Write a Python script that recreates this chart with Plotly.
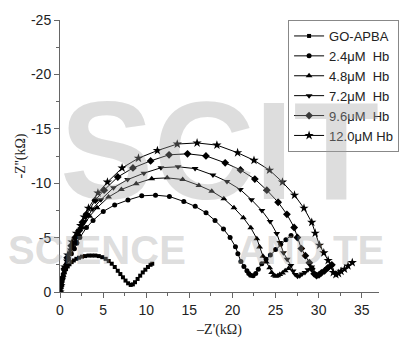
import plotly.graph_objects as go

# ---- data (kΩ) ----
names = ["GO-APBA", "2.4\u03bcM  Hb", "4.8\u03bcM  Hb", "7.2\u03bcM  Hb", "9.6\u03bcM  Hb", "12.0\u03bcM Hb"]
symbols = ["square", "circle", "triangle-up", "triangle-down", "diamond", "star"]
msizes = [4, 5, 6, 6, 6, 7]

x_go = [0, 0.05, 0.1, 0.15, 0.2, 0.3, 0.4, 0.55, 0.7, 0.9, 1.1, 1.35, 1.6, 1.9, 2.2, 2.55, 2.9, 3.3, 3.7, 4.1,
        4.5, 4.9, 5.3, 5.65, 6.0, 6.35, 6.7, 7.0, 7.3, 7.6, 7.9, 8.2, 8.45, 8.7, 9.0, 9.3, 9.6, 9.9, 10.2, 10.5, 10.7]
y_go = [0, -0.2, -0.5, -0.8, -1.0, -1.3, -1.6, -1.85, -2.1, -2.35, -2.55, -2.75, -2.9, -3.05, -3.15, -3.25, -3.3, -3.35, -3.35, -3.35,
        -3.3, -3.2, -3.05, -2.85, -2.6, -2.3, -1.95, -1.65, -1.35, -1.05, -0.8, -0.65, -0.7, -0.9, -1.2, -1.5, -1.8, -2.05, -2.3, -2.5, -2.6]

x_24 = [0, 0.07, 0.17, 0.38, 0.63, 0.98, 1.32, 1.67, 1.95, 2.3, 3.07, 3.83, 5.02, 6.34, 7.88, 9.48, 11.08, 12.69, 14.36, 15.68,
        16.94, 17.98, 18.96, 19.73, 20.35, 20.63, 20.98, 21.33, 21.68, 21.89, 22.1, 22.4, 22.7, 23.0, 23.4, 23.9, 24.4, 25.0, 25.6, 26.2, 26.8]
y_24 = [0, -0.39, -0.85, -1.5, -2.21, -2.99, -3.51, -3.97, -4.49, -5.0, -5.92, -6.57, -7.41, -8.0, -8.45, -8.84, -8.9, -8.78, -8.32, -7.87,
        -7.28, -6.57, -5.79, -5.0, -4.16, -3.51, -2.8, -2.34, -1.95, -1.7, -1.55, -1.5, -1.7, -2.1, -2.6, -3.0, -3.4, -3.9, -4.4, -4.8, -5.2]

x_48 = [0, 0.08, 0.2, 0.43, 0.7, 1.09, 1.49, 1.88, 2.19, 2.58, 3.44, 4.3, 5.63, 7.12, 8.84, 10.64, 12.43, 14.23, 16.11, 17.6,
        19.0, 20.18, 21.27, 22.13, 22.83, 23.15, 23.54, 23.93, 24.32, 24.55, 24.79, 25.02, 25.26, 25.49, 25.81, 26.12, 26.51]
y_48 = [0, -0.46, -1.0, -1.76, -2.6, -3.52, -4.14, -4.67, -5.29, -5.9, -6.97, -7.74, -8.73, -9.42, -9.96, -10.42, -10.49, -10.34, -9.8, -9.27,
        -8.58, -7.74, -6.82, -5.9, -4.9, -4.14, -3.29, -2.76, -2.22, -1.8, -1.55, -1.45, -1.5, -1.6, -1.75, -1.95, -2.15]

x_72 = [0, 0.09, 0.22, 0.47, 0.77, 1.21, 1.64, 2.07, 2.41, 2.84, 3.79, 4.74, 6.2, 7.84, 9.73, 11.71, 13.69, 15.67, 17.74, 19.37,
        20.92, 22.21, 23.42, 24.37, 25.14, 25.49, 25.92, 26.35, 26.78, 27.04, 27.29, 27.55, 27.81, 28.07, 28.41, 28.76, 29.19]
y_72 = [0, -0.5, -1.09, -1.93, -2.86, -3.86, -4.54, -5.12, -5.8, -6.47, -7.64, -8.48, -9.58, -10.33, -10.92, -11.42, -11.51, -11.34, -10.75, -10.16,
        -9.41, -8.48, -7.48, -6.47, -5.38, -4.54, -3.61, -3.02, -2.44, -1.93, -1.6, -1.45, -1.5, -1.65, -1.8, -2.05, -2.3]

x_96 = [0, 0.09, 0.23, 0.51, 0.84, 1.3, 1.77, 2.23, 2.6, 3.07, 4.09, 5.12, 6.7, 8.46, 10.51, 12.65, 14.79, 16.93, 19.16, 20.93,
        22.6, 23.99, 25.3, 26.32, 27.16, 27.53, 27.99, 28.46, 28.92, 29.2, 29.48, 29.76, 30.04, 30.32, 30.69, 31.06, 31.53]
y_96 = [0, -0.56, -1.21, -2.13, -3.15, -4.26, -5.01, -5.65, -6.4, -7.14, -8.44, -9.36, -10.57, -11.4, -12.05, -12.61, -12.7, -12.51, -11.87, -11.22,
        -10.38, -9.36, -8.25, -7.14, -5.93, -5.01, -3.99, -3.34, -2.69, -2.13, -1.67, -1.5, -1.58, -1.76, -1.95, -2.22, -2.5]

x_120 = [0, 0.1, 0.25, 0.55, 0.9, 1.4, 1.9, 2.4, 2.8, 3.3, 4.4, 5.5, 7.2, 9.1, 11.3, 13.6, 15.9, 18.2, 20.6, 22.5,
         24.3, 25.8, 27.2, 28.3, 29.2, 29.6, 30.1, 30.6, 31.1, 31.4, 31.7, 32.0, 32.3, 32.6, 33.0, 33.4, 33.9]
y_120 = [0, -0.6, -1.3, -2.3, -3.4, -4.6, -5.4, -6.1, -6.9, -7.7, -9.1, -10.1, -11.4, -12.3, -13.0, -13.6, -13.7, -13.5, -12.8, -12.1,
         -11.2, -10.1, -8.9, -7.7, -6.4, -5.4, -4.3, -3.6, -2.9, -2.3, -1.8, -1.6, -1.7, -1.9, -2.1, -2.4, -2.7]

xs = [x_go, x_24, x_48, x_72, x_96, x_120]
ys = [y_go, y_24, y_48, y_72, y_96, y_120]

x_ticks = [0, 5, 10, 15, 20, 25, 30, 35]
y_ticks = [0, -5, -10, -15, -20, -25]

fig = go.Figure()
for nm, sym, ms, xv, yv in zip(names, symbols, msizes, xs, ys):
    fig.add_trace(go.Scatter(
        x=xv, y=yv, name=nm, mode="lines+markers",
        line=dict(color="black", width=1),
        marker=dict(symbol=sym, size=ms, color="black", line=dict(width=0)),
    ))

wm = "rgba(160,160,160,0.36)"
annos = [
    dict(text="<b>SCIT</b>", x=0.50, y=0.52, xref="paper", yref="paper", showarrow=False,
         font=dict(family="Arial", size=140, color=wm), xanchor="center", yanchor="middle"),
    dict(text="<b>SCIENCE</b>", x=-0.17, y=0.155, xref="paper", yref="paper", showarrow=False,
         font=dict(family="Arial", size=40, color=wm), xanchor="left", yanchor="middle"),
    dict(text="<b>AND</b>", x=0.55, y=0.155, xref="paper", yref="paper", showarrow=False,
         font=dict(family="Arial", size=40, color=wm), xanchor="left", yanchor="middle"),
    dict(text="<b>TE</b>", x=0.85, y=0.155, xref="paper", yref="paper", showarrow=False,
         font=dict(family="Arial", size=40, color=wm), xanchor="left", yanchor="middle"),
]

fig.update_layout(
    width=411, height=338,
    margin=dict(l=60, r=16, t=20, b=46),
    paper_bgcolor="white", plot_bgcolor="white",
    font=dict(family="Arial", size=14, color="#222"),
    showlegend=True,
    legend=dict(x=0.715, y=1.0, xanchor="left", yanchor="top",
                bordercolor="#888", borderwidth=1, bgcolor="rgba(255,255,255,0)",
                font=dict(family="Arial", size=13, color="#222"),
                tracegroupgap=0, itemwidth=30),
    annotations=annos,
    xaxis=dict(range=[0, 37], tickmode="array", tickvals=x_ticks, ticktext=[str(v) for v in x_ticks],
               showline=True, linecolor="#666", linewidth=1, ticks="outside", ticklen=5, tickcolor="#666",
               showgrid=False, zeroline=False, automargin=False,
               minor=dict(tickmode="linear", tick0=0, dtick=2.5, ticks="outside", ticklen=3, tickcolor="#666", showgrid=False),
               title=dict(text="\u2013Z'(k\u03a9)", font=dict(family="Times New Roman, Liberation Serif, serif", size=14, color="#222"), standoff=15)),
    yaxis=dict(range=[0, -25], tickmode="array", tickvals=y_ticks, ticktext=[str(v) for v in y_ticks],
               showline=True, linecolor="#666", linewidth=1, ticks="outside", ticklen=5, tickcolor="#666",
               showgrid=False, zeroline=False, automargin=False,
               minor=dict(tickmode="linear", tick0=0, dtick=2.5, ticks="outside", ticklen=3, tickcolor="#666", showgrid=False),
               title=dict(text="-Z''(k\u03a9)", font=dict(family="Times New Roman, Liberation Serif, serif", size=14, color="#222"), standoff=2)),
)

fig.write_html("out.html")
